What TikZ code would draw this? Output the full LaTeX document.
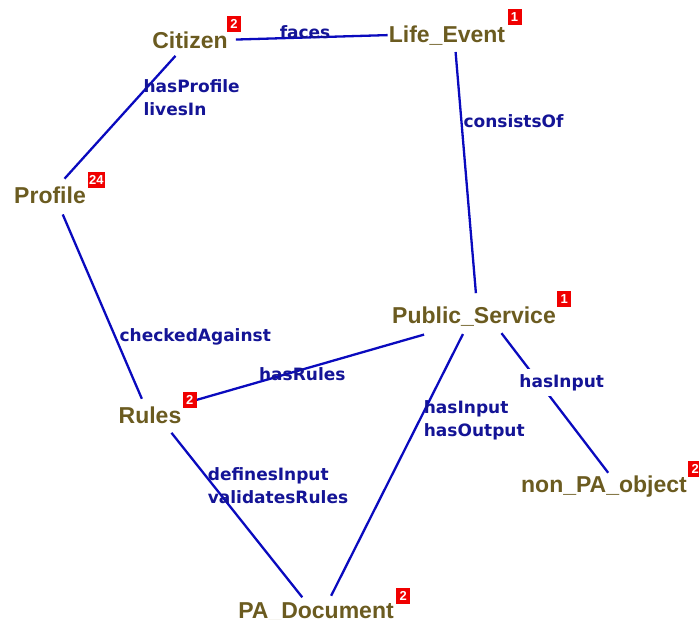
\documentclass[tikz,border=0pt]{standalone}
\usepackage{fontspec}
\setmainfont{Liberation Sans}
\newfontfamily\relfont{DejaVu Sans}
\definecolor{conceptcol}{RGB}{107,91,32}
\definecolor{linkcol}{RGB}{10,10,190}
\definecolor{relcol}{RGB}{20,20,150}
\definecolor{badgecol}{RGB}{240,0,0}

\begin{document}
\begin{tikzpicture}[
        x=1pt, y=-1pt, % pixel grid, y down
        concept/.style={anchor=base, inner sep=0pt, text=conceptcol, font=\fontsize{23}{23}\selectfont\bfseries}, % class names
        badge/.style={anchor=south west, fill=badgecol, text=white, inner sep=1pt, minimum width=14pt, minimum height=16pt, font=\fontsize{13}{13}\selectfont\bfseries},
        link/.style={draw=linkcol, line width=2.3pt},
        rel/.style={text=relcol, inner sep=0pt, align=left, font=\relfont\fontsize{17}{23}\selectfont\bfseries}, % relation labels
    ]
    \clip (0,0) rectangle (699,619);
    \useasboundingbox (0,0) rectangle (699,619);

    % concepts
    \node[concept] (cit) at (190,48) {Citizen};
    \node[concept] (life) at (447,42) {Life\_Event};
    \node[concept] (prof) at (50,203) {Profile};
    \node[concept] (ps) at (474,323) {Public\_Service};
    \node[concept] (rul) at (150,423) {Rules};
    \node[concept] (npa) at (604,492) {non\_PA\_object};
    \node[concept] (pad) at (316,618) {PA\_Document};

    % counters
    \node[badge] (citb) at ([xshift=-1pt,yshift=16pt]cit.base east) {2};
    \node[badge] (lifeb) at ([xshift=2pt,yshift=17pt]life.base east) {1};
    \node[badge] (profb) at ([xshift=2pt,yshift=15pt]prof.base east) {24};
    \node[badge] (psb) at ([xshift=1pt,yshift=16pt]ps.base east) {1};
    \node[badge] (rulb) at ([xshift=1pt,yshift=15pt]rul.base east) {2};
    \node[badge] (npab) at ([xshift=1pt,yshift=15pt]npa.base east) {2};
    \node[badge] (padb) at ([xshift=2pt,yshift=14pt]pad.base east) {2};

    % relations
    \draw[link, shorten <=8pt, shorten >=1pt] (cit.east) -- node[rel, pos=0.48, yshift=5pt] {faces} (life.west);
    \draw[link, shorten <=10pt, shorten >=10pt] (cit) -- node[rel, pos=0.36, anchor=west, xshift=5pt] {hasProfile\\livesIn} (prof);
    \draw[link, shorten <=7pt, shorten >=13pt] ([xshift=8pt]life.south) -- node[rel, pos=0.29, anchor=west, xshift=1pt] {consistsOf} ([xshift=3pt]ps.north);
    \draw[link, shorten <=12pt, shorten >=8pt] ([xshift=8pt]prof.south) -- node[rel, pos=0.66, anchor=west, xshift=3pt] {checkedAgainst} ([xshift=-5pt]rul.north);
    \draw[link, shorten >=2pt] (rulb.east) -- node[rel, pos=0.46, yshift=-5pt] {hasRules} ([xshift=-48pt,yshift=-8pt]ps.south);
    \draw[link, shorten <=9pt, shorten >=7pt] ([xshift=-7pt]ps.south) -- node[rel, pos=0.34, anchor=west, xshift=3pt] {hasInput\\hasOutput} ([xshift=12pt]pad.north);
    \draw[link, shorten <=9pt, shorten >=3pt] ([xshift=22pt]ps.south) -- node[rel, pos=0.38, anchor=west, xshift=-21pt, fill=white, inner ysep=5pt] {hasInput} ([xshift=6pt]npa.north);
    \draw[link, shorten <=12pt, shorten >=6pt] ([xshift=14pt]rul.south) -- node[rel, pos=0.35, anchor=west, xshift=-7pt] {definesInput\\validatesRules} ([xshift=-10pt]pad.north);

\end{tikzpicture}
\end{document}
